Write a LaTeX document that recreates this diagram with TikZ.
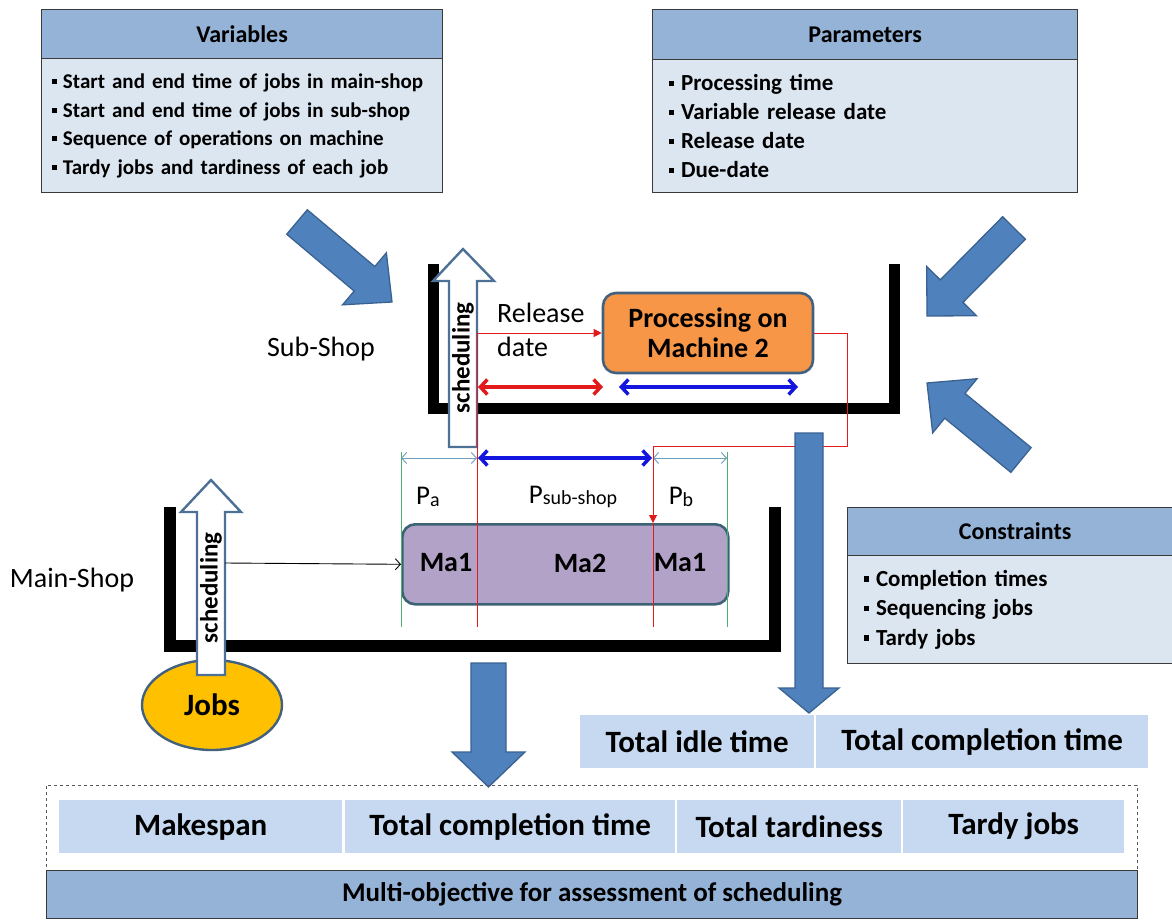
\documentclass[tikz,border=0pt]{standalone}
\usepackage{fontspec}
\setmainfont{Carlito}
\usetikzlibrary{arrows.meta,calc,shapes.geometric}
\definecolor{hdrc}{HTML}{95B3D7}
\definecolor{bodyc}{HTML}{DCE6F1}
\definecolor{bordc}{HTML}{3A3A3A}
\definecolor{arrfill}{HTML}{4F81BD}
\definecolor{arrdraw}{HTML}{3A6291}
\definecolor{cellc}{HTML}{C6D9F0}
\definecolor{procc}{HTML}{F79646}
\definecolor{shapeb}{HTML}{41617F}
\definecolor{mab}{HTML}{3B6275}
\definecolor{mac}{HTML}{B3A2C7}
\definecolor{jobc}{HTML}{FFC000}
\definecolor{schedb}{HTML}{4D7196}
\definecolor{thinb}{HTML}{6E9CBB}
\definecolor{grn}{HTML}{4DB070}
\definecolor{redl}{HTML}{E31A1C}
\definecolor{bluel}{HTML}{1515E0}
\newcommand\fsz[2]{\fontsize{#1}{#2}\selectfont}
\newcommand\bul{\raisebox{0.2em}{\rule{0.24em}{0.24em}}\hspace{0.3em}}
\newcommand\blockarr[5]{%
  \coordinate (baT) at #1; \coordinate (baP) at #2;
  \coordinate (baB) at ($(baP)!#5!(baT)$);
  \draw[bigarrow] ($(baT)!#3!90:(baP)$) -- ($(baB)!#3!90:(baP)$) -- ($(baB)!#4!90:(baP)$) -- (baP)
     -- ($(baB)!#4!-90:(baP)$) -- ($(baB)!#3!-90:(baP)$) -- ($(baT)!#3!-90:(baP)$) -- cycle;}
\begin{document}
\begin{tikzpicture}[x=1pt,y=-1pt,
  hdr/.style={draw=bordc,fill=hdrc,line width=1.3pt,font=\bfseries\fsz{24}{28},inner sep=0pt},
  bodybox/.style={draw=bordc,fill=bodyc,line width=1.3pt,font=\bfseries\fsz{23}{29},align=left,inner ysep=0pt},
  bigarrow/.style={fill=arrfill,draw=arrdraw,line width=1.3pt,line join=miter},
  bracket/.style={line width=11pt,line join=miter,draw=black},
  hollow/.style={draw=schedb,fill=white,line width=2.4pt,line join=miter},
  cell/.style={fill=cellc,font=\bfseries\fsz{31}{36},inner sep=0pt,anchor=north west},
  lbl/.style={font=\fsz{28}{34},inner sep=0pt},
  plbl/.style={font=\fsz{27}{32},inner sep=0pt},
  schtext/.style={rotate=90,font=\bfseries\fsz{25}{30},inner sep=0pt},
  matext/.style={font=\bfseries\fsz{28}{33},inner sep=0pt},
  redthin/.style={draw=redl,line width=1pt},
  redthick/.style={draw=redl,line width=3.5pt,{Straight Barb[length=7pt,width=15pt]}-{Straight Barb[length=7pt,width=15pt]}},
  bluethick/.style={draw=bluel,line width=3.5pt,{Straight Barb[length=7pt,width=15pt]}-{Straight Barb[length=7pt,width=15pt]}},
  thinblue/.style={draw=thinb,line width=0.9pt,{Straight Barb[length=5pt,width=11pt]}-{Straight Barb[length=5pt,width=11pt]}},
  greenl/.style={draw=grn,line width=0.9pt}
]
\useasboundingbox (0,0) rectangle (1172,920);
\fill[white] (0,0) rectangle (1172,920);

% ---- top boxes
\node[hdr,minimum width=401,minimum height=49,anchor=north west] (varh) at (41,9) {Variables};
\node[bodybox,font=\bfseries\fsz{21}{28.5},minimum width=401,minimum height=134,text width=381,inner xsep=10,anchor=north west] (varb) at (41,58)
  {\bul Start and end time of jobs in main-shop\\ \bul Start and end time of jobs in sub-shop\\ \bul Sequence of operations on machine\\ \bul Tardy jobs and tardiness of each job};
\node[hdr,minimum width=425,minimum height=50,anchor=north west] (parh) at (652,9) {Parameters};
\node[bodybox,minimum width=425,minimum height=133,text width=393,inner xsep=16,anchor=north west] (parb) at (652,59)
  {\bul Processing time\\ \bul Variable release date\\ \bul Release date\\ \bul Due-date};
\node[hdr,minimum width=335,minimum height=48,anchor=north west] (conh) at (847,507) {Constraints};
\node[bodybox,font=\bfseries\fsz{23}{29.5},minimum width=335,minimum height=108,text width=303,inner xsep=16,anchor=north west] (conb) at (847,555)
  {\bul Completion times\\ \bul Sequencing jobs\\ \bul Tardy jobs};

% ---- big diagonal arrows
\blockarr{(297,222)}{(392,302)}{16pt}{34pt}{36pt}
\blockarr{(1014,228)}{(927,316)}{16pt}{35pt}{35pt}
\blockarr{(1021,460)}{(927,383)}{16pt}{35pt}{36pt}

% ---- shop brackets
\draw[bracket] (433,264) -- (433,408) -- (894,408) -- (894,264);
\draw[bracket,line width=12pt] (170,507) -- (170,646) -- (775,646) -- (775,507);

% ---- labels
\node[lbl] (subl) at (321,349) {Sub-Shop};
\node[lbl] (mainl) at (72,580) {Main-Shop};
\node[lbl,align=left,anchor=west] (rel) at (497,330) {Release\\date};

% ---- machines
\node[draw=shapeb,fill=procc,line width=2.6pt,rounded corners=13pt,minimum width=210,minimum height=80,align=center,font=\bfseries\fsz{28}{30}] (proc) at (708,333) {Processing on\\Machine 2};
\node[draw=mab,fill=mac,line width=2.6pt,rounded corners=13pt,minimum width=326,minimum height=80,anchor=north west] (ma) at (401,523) {};
\node[ellipse,draw=shapeb,fill=jobc,line width=2.4pt,minimum width=140,minimum height=90,inner sep=0pt,font=\bfseries\fsz{31}{36}] (jobs) at (212,705) {Jobs};

% ---- dimension lines
\coordinate (g1t) at (401,452); \coordinate (g1b) at (401,627);
\coordinate (g2t) at (727,452); \coordinate (g2b) at (727,627);
\draw[greenl] (g1t) -- (g1b);
\draw[greenl] (g2t) -- (g2b);
\coordinate (d1) at (401,458); \coordinate (d2) at (477,458); \coordinate (d3) at (653,458); \coordinate (d4) at (727,458);
\draw[thinblue] (d1) -- (d2);
\draw[thinblue] (d3) -- (d4);
\draw[bluethick] ([xshift=1pt]d2) -- ([xshift=-1pt]d3);
\coordinate (s1) at (478,387); \coordinate (s2) at (603,387); \coordinate (s3) at (619,387); \coordinate (s4) at (798,387);
\draw[redthick] (s1) -- (s2);
\draw[bluethick] (s3) -- (s4);
\node[plbl] (pa) at (428,497) {P{\fsz{20}{24}\raisebox{-1.5pt}{a}}};
\node[plbl] (psub) at (573,497) {P{\fsz{20}{24}\raisebox{-1.5pt}{sub-shop}}};
\node[plbl] (pb) at (681,497) {P{\fsz{20}{24}\raisebox{-1.5pt}{b}}};

% ---- scheduling arrows
\draw[hollow] (449,447) -- (449,281) -- (433,281) -- (463,249) -- (494,281) -- (477,281) -- (477,447) -- cycle;
\node[schtext] (sch1) at (463,358) {scheduling};
\draw[hollow] (197,675) -- (197,512) -- (181,512) -- (211,480) -- (241,512) -- (225,512) -- (225,675) -- cycle;
\node[schtext] (sch2) at (211,588) {scheduling};

% ---- red flow lines
\coordinate (rtop) at (477,333); \coordinate (rbot) at (477,627);
\draw[redthin] (rbot) -- (rtop);
\draw[redthin,-{Triangle[length=8pt,width=8pt]}] (rtop) -- (proc.west);
\coordinate (rc1) at (847,333); \coordinate (rc2) at (847,446); \coordinate (rc3) at (653,446); \coordinate (rc4) at (653,523); \coordinate (rc5) at (653,627);
\draw[redthin,-{Triangle[length=8pt,width=8pt]}] (proc.east) -- (rc1) -- (rc2) -- (rc3) -- (rc4);
\draw[redthin] (rc4) -- (rc5);

% ---- machine labels
\node[matext] (m1) at (446,563) {Ma1};
\node[matext] (m2) at (580,563) {Ma2};
\node[matext] (m3) at (680,563) {Ma1};
\coordinate (jin) at (225,563);
\draw[line width=0.9pt,-{Straight Barb[length=5pt,width=11pt]}] (jin) -- (ma.west);

% ---- vertical down arrows
\draw[bigarrow] (795,433) -- (795,688) -- (779,688) -- (809,713) -- (839,688) -- (823,688) -- (823,433) -- cycle;
\draw[bigarrow] (471,663) -- (471,752) -- (452,752) -- (488.5,787) -- (525,752) -- (506,752) -- (506,663) -- cycle;

% ---- totals
\node[cell,minimum width=234,minimum height=53] (idle) at (580,715) {Total idle time};
\node[cell,minimum width=332,minimum height=53] (tct) at (816,715) {Total completion time};

% ---- objectives
\node[draw=gray!70!black,dashed,line width=0.8pt,minimum width=1091,minimum height=85,anchor=north west,inner sep=0pt] (objbox) at (46,785) {};
\node[cell,minimum width=283,minimum height=53] (mk) at (59,800) {Makespan};
\node[cell,minimum width=330,minimum height=53] (tc2) at (345,800) {Total completion time};
\node[cell,minimum width=224,minimum height=53] (tt) at (677,800) {Total tardiness};
\node[cell,minimum width=221,minimum height=53] (tj) at (903,800) {Tardy jobs};
\node[draw=bordc,fill=hdrc,line width=1.3pt,minimum width=1091,minimum height=48,anchor=north west,inner sep=0pt,font=\bfseries\fsz{27}{32}] (multi) at (46,870) {Multi-objective for assessment of scheduling};
\end{tikzpicture}
\end{document}
